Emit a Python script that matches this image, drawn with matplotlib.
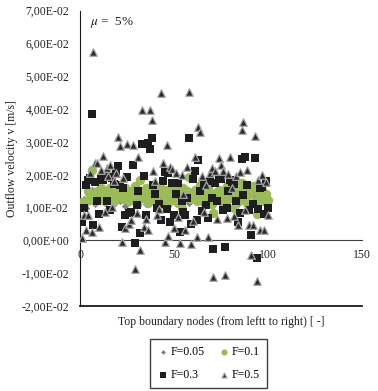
import matplotlib
matplotlib.use("Agg")
import matplotlib.pyplot as plt
import numpy as np

plt.rcParams['font.family'] = ['Liberation Serif', 'DejaVu Serif']
plt.rcParams['mathtext.fontset'] = 'stix'

# node number along the top boundary
nodes = list(range(1, 101))

# outflow velocity, in units of 1E-02 m/s
v_f005 = [1.10, 1.25, 1.00, 1.40, 1.20, 1.55, 1.30, 1.10, 1.45, 1.20,
          1.35, 1.50, 1.15, 1.40, 1.25, 1.55, 1.30, 1.10, 1.45, 1.60,
          1.20, 1.40, 1.30, 1.05, 1.50, 1.25, 1.40, 1.60, 1.15, 1.35,
          1.45, 1.20, 1.55, 1.30, 1.10, 1.40, 1.50, 1.25, 1.60, 1.35,
          1.15, 1.45, 1.30, 1.55, 1.20, 1.40, 1.05, 1.35, 1.50, 1.25,
          1.60, 1.30, 1.10, 1.45, 1.20, 1.55, 1.35, 1.15, 1.40, 1.50,
          1.25, 1.45, 1.30, 1.60, 1.15, 1.40, 1.25, 1.50, 1.35, 1.20,
          1.08, 1.40, 1.55, 1.30, 1.45, 1.15, 1.35, 1.50, 1.20, 1.40,
          1.60, 1.25, 1.45, 1.10, 1.35, 1.55, 1.20, 1.40, 1.30, 1.50,
          1.15, 1.40, 1.25, 1.08, 1.45, 1.30, 1.50, 1.20, 1.35, 1.10]

v_f01 = [1.18, 1.10, 1.20, 1.50, 1.30, 2.14, 1.40, 1.20, 1.50, 1.30,
         1.60, 1.40, 1.20, 1.50, 1.30, 1.60, 1.45, 1.20, 1.55, 1.70,
         1.35, 1.50, 1.25, 1.60, 1.40, 1.20, 1.50, 1.35, 1.65, 1.10,
         1.50, 1.84, 1.30, 1.45, 1.60, 1.15, 1.50, 1.35, 1.70, 1.25,
         1.50, 1.40, 1.60, 1.10, 1.30, 1.55, 1.40, 1.20, 1.65, 1.30,
         1.50, 1.15, 1.45, 0.98, 1.60, 1.35, 1.50, 1.92, 1.25, 1.40,
         1.55, 1.20, 1.45, 1.70, 1.30, 1.50, 1.20, 1.60, 1.35, 1.10,
         0.82, 1.45, 1.30, 1.55, 1.20, 1.50, 1.40, 1.65, 1.25, 1.50,
         1.35, 0.98, 1.55, 1.20, 1.45, 1.76, 1.30, 1.50, 1.15, 1.40,
         1.60, 1.66, 1.20, 0.79, 1.45, 1.30, 1.55, 1.20, 1.40, 1.23]

v_f03 = [0.55, 0.98, 1.70, 1.84, 1.90, 3.85, 0.47, 1.78, 1.20, 0.79,
         1.89, 1.85, 1.94, 1.20, 1.94, 0.92, 1.90, 1.72, 2.10, 2.27,
         1.70, 0.41, 1.60, 0.77, 1.94, 0.84, 0.88, 2.30, -0.09, 1.08,
         1.50, 0.21, 2.94, 1.95, 0.77, 2.96, 2.80, 3.13, 1.69, 1.40,
         0.98, 1.10, 0.62, 1.82, 2.09, 0.95, 2.04, 0.57, 1.74, 0.77,
         1.40, 1.76, 0.26, 1.20, 0.86, 0.77, 1.30, 3.13, 0.49, 1.88,
         2.11, 0.62, 2.45, 1.50, 0.90, 1.70, 1.08, 0.67, 1.80, 1.30,
         -0.27, 1.74, 1.20, 1.87, 1.87, 0.94, -0.21, 0.98, 1.50, 1.84,
         1.79, 1.72, 1.20, 0.57, 0.82, 2.48, 1.38, 2.55, 1.69, 0.92,
         0.16, 1.10, 2.50, -0.53, 0.96, 1.60, 1.63, 0.79, 1.81, 0.98]

v_f05 = [0.06, 0.77, 0.31, 0.77, 2.04, 0.26, 5.74, 2.35, 2.35, 0.40,
         2.15, 2.58, 0.85, 2.20, 1.95, 2.30, 1.02, 1.80, 2.05, 3.16,
         2.88, -0.06, 1.90, 0.37, 2.94, 0.49, 0.62, 2.90, -0.88, 0.82,
         2.55, -0.30, 3.97, 0.41, 0.64, 0.31, 3.97, 3.67, 2.12, 1.80,
         0.77, 0.95, 4.48, 2.35, -0.04, 2.90, 0.14, 2.24, 2.18, 0.38,
         2.04, 0.72, -0.09, 1.98, 1.40, 0.31, 2.25, 4.52, -0.11, 0.58,
         2.55, 0.11, 3.46, 3.31, 1.95, 0.88, 1.70, 0.09, 2.06, 2.20,
         -1.11, 2.10, 0.65, 2.52, 2.30, 2.10, -1.06, 0.69, 2.02, 2.55,
         1.60, 0.75, 1.97, 0.47, 2.08, 3.36, 3.60, 0.92, 2.14, 0.47,
         -0.45, 0.47, 3.18, -1.23, 1.84, 0.31, 2.00, 0.31, 1.79, 0.77]

y_ticks = [-0.02, -0.01, 0.0, 0.01, 0.02, 0.03, 0.04, 0.05, 0.06, 0.07]
y_ticklabels = ["-2,00E-02", "-1,00E-02", "0,00E+00", "1,00E-02", "2,00E-02",
                "3,00E-02", "4,00E-02", "5,00E-02", "6,00E-02", "7,00E-02"]
x_ticks = [0, 50, 100, 150]

fig = plt.figure(figsize=(3.78, 3.91), dpi=100)
ax = fig.add_axes([0.2124, 0.2174, 0.7444, 0.7552])

x = np.array(nodes)
h1 = ax.scatter(x, np.array(v_f005) * 1e-2, marker='D', s=14, color='#7f7f7f',
                linewidths=0, label='F=0.05', zorder=3)
h2 = ax.scatter(x, np.array(v_f01) * 1e-2, marker='o', s=46, color='#9bbb59',
                linewidths=0, label='F=0.1', zorder=4)
h3 = ax.scatter(x, np.array(v_f03) * 1e-2, marker='s', s=32, color='#1e1e1e',
                linewidths=0, label='F=0.3', zorder=5)
h4 = ax.scatter(x, np.array(v_f05) * 1e-2, marker='^', s=30, color='#2a2a2a',
                edgecolors='#a6a6a6', linewidths=0.9, label='F=0.5', zorder=6)

ax.set_xlim(0, 150)
ax.set_ylim(-0.02, 0.07)
ax.set_yticks(y_ticks)
ax.set_yticklabels(y_ticklabels)
ax.set_xticks(x_ticks)

# category axis crosses at zero
ax.spines['bottom'].set_position(('data', 0))
ax.spines['bottom'].set_color('#404040')
ax.spines['top'].set_visible(False)
ax.spines['right'].set_visible(False)
ax.spines['left'].set_color('#1a1a1a')
ax.axhline(-0.02, color='#1a1a1a', lw=1.3, clip_on=False, zorder=2)

ax.tick_params(axis='both', length=0, labelsize=8.5, colors='#222222')
ax.tick_params(axis='x', pad=6)
ax.tick_params(axis='y', pad=8)

ax.set_ylabel('Outflow velocity v [m/s]', fontsize=8.5, color='#222222')
ax.yaxis.set_label_coords(-0.221, 0.5)

fig.text(0.239, 0.942, r'$\mu$ =  5%', fontsize=9.5,
         color='#222222', va='center', ha='left')

fig.text(0.584, 1 - 322 / 391, 'Top boundary nodes (from leftt to right) [ -]',
         fontsize=8.5, color='#222222', ha='center', va='center')

leg = fig.legend(handles=[h1, h3, h2, h4], ncol=2, loc='center',
                 bbox_to_anchor=(0.5516, 0.0703), fontsize=8.5,
                 frameon=True, fancybox=False, handletextpad=0.1,
                 columnspacing=1.2, handlelength=1.0, borderpad=0.6,
                 labelspacing=0.9, markerscale=0.65)
leg.get_frame().set_edgecolor('#111111')
leg.get_frame().set_linewidth(1.0)

fig.savefig('out.png', dpi=100)
